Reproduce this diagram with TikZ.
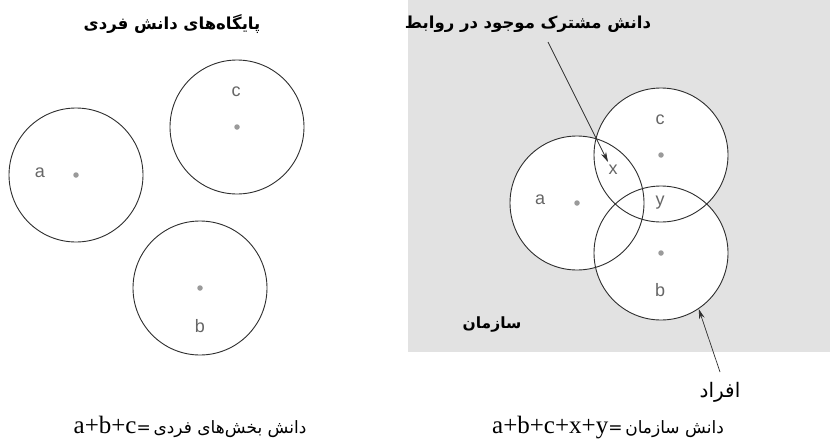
\documentclass[tikz,border=0pt]{standalone}
\usepackage{fontspec}
\usetikzlibrary{arrows.meta}
\TeXXeTstate=1
\newfontfamily\fa[Script=Arabic]{DejaVu Sans}
\newfontfamily\lsans{Liberation Sans}
\newfontfamily\lserif{Liberation Serif}
\definecolor{bgpanel}{HTML}{E2E2E2}
\definecolor{ink}{HTML}{2E2E2E}
\definecolor{lbl}{HTML}{666666}
\definecolor{dotc}{HTML}{9A9A9A}
\begin{document}
\begin{tikzpicture}[x=1pt,y=-1pt,
  ring/.style={circle, draw=ink, line width=0.9pt, minimum size=134pt, inner sep=0pt},
  lab/.style={font=\lsans\fontsize{18}{18}\selectfont, text=lbl, inner sep=0pt},
  centre/.style={circle, fill=dotc, minimum size=5.5pt, inner sep=0pt},
  title/.style={font=\fa\bfseries\fontsize{16.5}{18}\selectfont, inner sep=0pt},
  formula/.style={inner sep=0pt},
  pointer/.style={draw=ink, line width=0.7pt, -{Stealth[length=10pt,width=5.5pt]}}]
\useasboundingbox (0,0) rectangle (830,442);
\fill[white] (0,0) rectangle (830,442);
\fill[bgpanel] (408,0) rectangle (830,352);
% titles
\node[title] (ltitle) at (172,24) {\beginR پایگاه‌های دانش فردی\endR};
\node[title] (rtitle) at (528,24) {\beginR دانش مشترک موجود در روابط\endR};
% left circles
\node[ring] (LA) at (76,175) {};
\node[ring] (LC) at (237,127) {};
\node[ring] (LB) at (200,288) {};
\node[centre] (la) at (76,175) {};
\node[centre] (lc) at (237,127) {};
\node[centre] (lb) at (200,288) {};
\node[lab] (tla) at (40,173) {a};
\node[lab] (tlc) at (236,92) {c};
\node[lab] (tlb) at (200,326) {b};
% right circles
\fill[white] (577,203) circle[radius=67pt];
\fill[white] (661,155) circle[radius=67pt];
\fill[white] (661,253) circle[radius=67pt];
\node[ring] (RA) at (577,203) {};
\node[ring] (RC) at (661,155) {};
\node[ring] (RB) at (661,253) {};
\node[centre] (ra) at (577,203) {};
\node[centre] (rc) at (661,155) {};
\node[centre] (rb) at (661,253) {};
\node[lab] (tra) at (540,200) {a};
\node[lab] (trx) at (613,170) {x};
\node[lab] (try) at (660,203) {y};
\node[lab] (trc) at (660,120) {c};
\node[lab] (trb) at (660,290) {b};
% labels
\node[font=\fa\bfseries\fontsize{15.5}{17}\selectfont, inner sep=0pt] (org) at (492,324) {\beginR سازمان\endR};
\node[font=\fa\fontsize{20}{22}\selectfont, inner sep=0pt] (afrad) at (720,392) {\beginR افراد\endR};
% pointers
\coordinate (p1s) at (548,42);
\coordinate (p1e) at (608,162);
\draw[pointer] (p1s) -- (p1e);
\coordinate (p2s) at (720,372);
\draw[pointer] (p2s) -- (RB.-56);
% formulas
\node[formula] (lform) at (190,427) {{\lserif\fontsize{25}{25}\selectfont a+b+c}{\fa\fontsize{17}{19}\selectfont =\,\beginR دانش بخش‌های فردی\endR}};
\node[formula] (rform) at (608,428) {{\lserif\fontsize{25}{25}\selectfont a+b+c+x+y}{\fa\fontsize{17}{19}\selectfont =\,\beginR دانش سازمان\endR}};
\end{tikzpicture}
\end{document}
